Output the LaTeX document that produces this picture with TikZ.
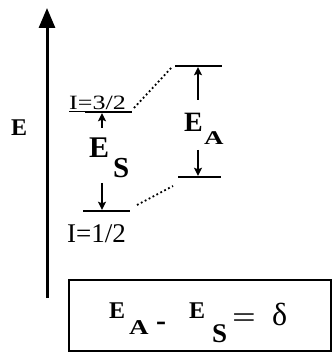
\documentclass[tikz,border=0pt]{standalone}
\usepackage{fontspec}
\setmainfont{Liberation Serif}
\usetikzlibrary{arrows.meta}
\begin{document}
\begin{tikzpicture}[x=1pt,y=-1pt,
  level/.style={line width=2.4pt},
  gaparrow/.style={line width=1.8pt,-{Stealth[length=8pt,width=8pt,inset=1.5pt]}},
  dots/.style={line width=1.8pt,dash pattern=on 1.8pt off 2.6pt},
  lbl/.style={inner sep=0pt,anchor=base west},
  bigb/.style={lbl,font=\fontsize{#1}{#1}\selectfont\bfseries},
  reg/.style={lbl,font=\fontsize{#1}{#1}\selectfont}
]
\useasboundingbox (0,0) rectangle (332,352);

% energy axis
\coordinate (axbot) at (47,298);
\coordinate (axtop) at (47,8);
\draw[line width=3pt,-{Triangle[length=20pt,width=16pt]}] (axbot) -- (axtop);
\node[bigb=24] (eaxis) at (11,136) {E};

% levels
\coordinate (ul0) at (69,112);
\coordinate (ula) at (85,112);
\coordinate (ulb) at (132,112);
\coordinate (lla) at (83,211);
\coordinate (llb) at (130,211);
\coordinate (ura) at (175,66);
\coordinate (urb) at (222,66);
\coordinate (lra) at (178,177);
\coordinate (lrb) at (221,177);
\draw[line width=1pt] (ul0) -- (ula);
\draw[level] (ula) -- (ulb);
\draw[level] (lla) -- (llb);
\draw[level] (ura) -- (urb);
\draw[level] (lra) -- (lrb);

% dotted correlation lines
\coordinate (d1a) at (134,108);
\coordinate (d1b) at (172,67);
\coordinate (d2a) at (137,205);
\coordinate (d2b) at (173,186);
\draw[dots] (d1a) -- (d1b);
\draw[dots] (d2a) -- (d2b);

% gap arrows
\coordinate (s1) at (102,128);
\coordinate (s1t) at (102,113.2);
\coordinate (s2) at (102,183);
\coordinate (s2t) at (102,209.8);
\coordinate (a1) at (198,100);
\coordinate (a1t) at (198,67.2);
\coordinate (a2) at (198,150);
\coordinate (a2t) at (198,175.8);
\draw[gaparrow] (s1) -- (s1t);
\draw[gaparrow] (s2) -- (s2t);
\draw[gaparrow] (a1) -- (a1t);
\draw[gaparrow] (a2) -- (a2t);

% labels
\node[reg=26] (i32) at (69,110) {\scalebox{1}[0.78]{I=3/2}};
\node[reg=27] (i12) at (67,242) {I=1/2};
\node[bigb=30] (esE) at (89,158) {E};
\node[bigb=29] (esS) at (113,178) {S};
\node[bigb=28] (eaE) at (184,132) {E};
\node[bigb=27] (eaA) at (204,145) {\scalebox{1}[0.72]{A}};

% formula box
\node[draw,line width=2pt,minimum width=262pt,minimum height=71pt,anchor=north west,inner sep=0pt] (box) at (68,279) {};
\node[bigb=24] (fE1) at (109,318) {E};
\node[bigb=27] (fA) at (129,334) {\scalebox{1}[0.78]{A}};
\node[bigb=30] (fmin) at (156,330) {-};
\node[bigb=24] (fE2) at (189,318) {E};
\node[bigb=27] (fS) at (212,342) {S};
\node[reg=30] (feq) at (232,327) {\scalebox{1.4}[1]{=}};
\node[reg=32] (fd) at (272,325) {δ};
\end{tikzpicture}
\end{document}
